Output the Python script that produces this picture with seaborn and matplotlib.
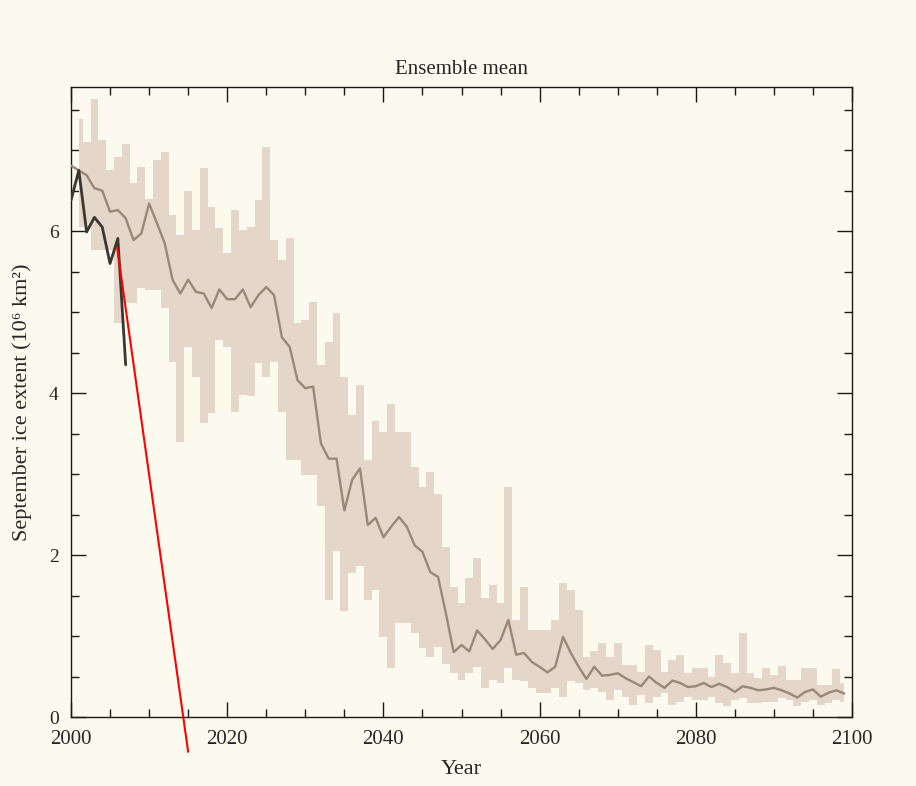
import numpy as np
import pandas as pd
import matplotlib
matplotlib.use("Agg")
import matplotlib.pyplot as plt
import seaborn as sns
from matplotlib.ticker import MultipleLocator

# ---------------- data ----------------
years = list(range(2000, 2100))
ens_mean = [6.81, 6.75, 6.69, 6.53, 6.50, 6.24, 6.26, 6.16, 5.89, 5.97,
            6.34, 6.10, 5.85, 5.40, 5.23, 5.40, 5.25, 5.23, 5.05, 5.28,
            5.16, 5.16, 5.28, 5.06, 5.21, 5.31, 5.21, 4.69, 4.57, 4.16,
            4.06, 4.08, 3.38, 3.19, 3.19, 2.55, 2.93, 3.07, 2.37, 2.46,
            2.22, 2.35, 2.47, 2.35, 2.12, 2.04, 1.79, 1.73, 1.28, 0.80,
            0.89, 0.81, 1.07, 0.96, 0.84, 0.95, 1.20, 0.77, 0.79, 0.68,
            0.62, 0.55, 0.62, 0.99, 0.79, 0.62, 0.47, 0.62, 0.51, 0.52,
            0.54, 0.48, 0.43, 0.38, 0.50, 0.42, 0.36, 0.45, 0.42, 0.37,
            0.38, 0.42, 0.37, 0.41, 0.37, 0.31, 0.38, 0.36, 0.33, 0.34,
            0.36, 0.33, 0.29, 0.24, 0.31, 0.34, 0.25, 0.30, 0.33, 0.29]

band_years = list(range(2001, 2100))
band_upper = [7.39, 7.10, 7.63, 7.12, 6.75, 6.92, 7.07, 6.59, 6.79,
              6.40, 6.88, 6.98, 6.20, 5.95, 6.50, 6.01, 6.78, 6.30, 6.04,
              5.73, 6.26, 6.01, 6.05, 6.38, 7.04, 5.89, 5.64, 5.91, 4.86,
              4.90, 5.13, 4.35, 4.63, 4.99, 4.20, 3.73, 4.10, 3.17, 3.65,
              3.52, 3.87, 3.52, 3.52, 3.09, 2.84, 3.03, 2.76, 2.10, 1.61,
              1.41, 1.72, 1.96, 1.47, 1.63, 1.41, 2.84, 1.20, 1.61, 1.07,
              1.07, 1.07, 1.20, 1.66, 1.57, 1.32, 0.74, 0.81, 0.92, 0.74,
              0.91, 0.64, 0.64, 0.56, 0.89, 0.83, 0.56, 0.70, 0.77, 0.54,
              0.60, 0.60, 0.50, 0.77, 0.67, 0.54, 1.04, 0.54, 0.48, 0.60,
              0.52, 0.63, 0.46, 0.46, 0.60, 0.60, 0.39, 0.39, 0.59, 0.42]
band_lower = [6.05, 6.05, 5.77, 5.77, 5.77, 4.86, 5.11, 5.11, 5.30,
              5.27, 5.27, 5.05, 4.39, 3.40, 4.57, 4.20, 3.63, 3.75, 4.65,
              4.57, 3.77, 3.98, 3.96, 4.37, 4.20, 4.39, 3.77, 3.17, 3.17,
              2.99, 2.99, 2.60, 1.44, 2.05, 1.31, 1.78, 1.86, 1.44, 1.57,
              0.99, 0.60, 1.16, 1.16, 1.04, 0.85, 0.74, 0.87, 0.66, 0.54,
              0.46, 0.54, 0.62, 0.36, 0.46, 0.42, 0.60, 0.46, 0.44, 0.36,
              0.30, 0.30, 0.36, 0.25, 0.44, 0.42, 0.33, 0.36, 0.31, 0.21,
              0.33, 0.25, 0.15, 0.27, 0.17, 0.25, 0.30, 0.15, 0.19, 0.25,
              0.21, 0.21, 0.25, 0.17, 0.13, 0.21, 0.23, 0.17, 0.17, 0.19,
              0.19, 0.23, 0.21, 0.13, 0.19, 0.21, 0.15, 0.17, 0.21, 0.19]

obs_years = [2000, 2001, 2002, 2003, 2004, 2005, 2006, 2007]
obs_extent = [6.38, 6.75, 5.99, 6.17, 6.05, 5.60, 5.91, 4.35]

trend_x = [2005.9, 2015.0]
trend_y = [5.80, -0.43]

x_ticks = [2000, 2020, 2040, 2060, 2080, 2100]
x_ticklabels = ["2000", "2020", "2040", "2060", "2080", "2100"]
y_ticks = [0, 2, 4, 6]
y_ticklabels = ["0", "2", "4", "6"]

title = "Ensemble mean"
xlabel = "Year"
ylabel = "September ice extent (10\u2076 km\u00b2)"

# ---------------- styling ----------------
PAPER = "#fcfaee"
BAND = "#e4d6c9"
MEAN = "#998878"
OBS = "#3b3632"

sns.set_theme(style="ticks")
plt.rcParams["font.family"] = ["Liberation Serif", "DejaVu Serif"]
plt.rcParams["axes.edgecolor"] = "#1a1a1a"
plt.rcParams["axes.linewidth"] = 1.0

fig = plt.figure(figsize=(9.16, 7.86), dpi=100, facecolor=PAPER)
ax = fig.add_axes([71 / 916, 1 - 717 / 786, (852 - 71) / 916, (717 - 87) / 786])
ax.set_facecolor(PAPER)

mean_df = pd.DataFrame({"Year": years, "Extent": ens_mean})
obs_df = pd.DataFrame({"Year": obs_years, "Extent": obs_extent})

ax.fill_between(band_years, band_lower, band_upper, step="mid",
                color=BAND, linewidth=0, zorder=1)
sns.lineplot(data=mean_df, x="Year", y="Extent", ax=ax, color=MEAN,
             linewidth=1.7, zorder=3)
sns.lineplot(data=obs_df, x="Year", y="Extent", ax=ax, color=OBS,
             linewidth=2.0, zorder=4)
ax.plot(trend_x, trend_y, color="#ff0000", linewidth=1.5, zorder=5,
        clip_on=False)

ax.set_xlim(2000, 2100)
ax.set_ylim(0, 7.78)

ax.set_xticks(x_ticks)
ax.set_xticklabels(x_ticklabels)
ax.set_yticks(y_ticks)
ax.set_yticklabels(y_ticklabels)
ax.xaxis.set_minor_locator(MultipleLocator(5))
ax.yaxis.set_minor_locator(MultipleLocator(0.5))

ax.tick_params(which="both", direction="in", top=True, right=True,
               color="#1a1a1a", width=1.0)
ax.tick_params(which="major", length=11)
ax.tick_params(axis="x", which="major", labelsize=15, pad=9)
ax.tick_params(axis="y", which="major", labelsize=14, pad=9)
ax.tick_params(which="minor", length=5.5)

ax.set_title(title, fontsize=15, pad=9)
ax.set_xlabel(xlabel, fontsize=16, labelpad=8)
ax.set_ylabel(ylabel, fontsize=16, labelpad=12)

for s in ax.spines.values():
    s.set_visible(True)
    s.set_linewidth(1.0)

fig.savefig("out.png", dpi=100, facecolor=PAPER)
